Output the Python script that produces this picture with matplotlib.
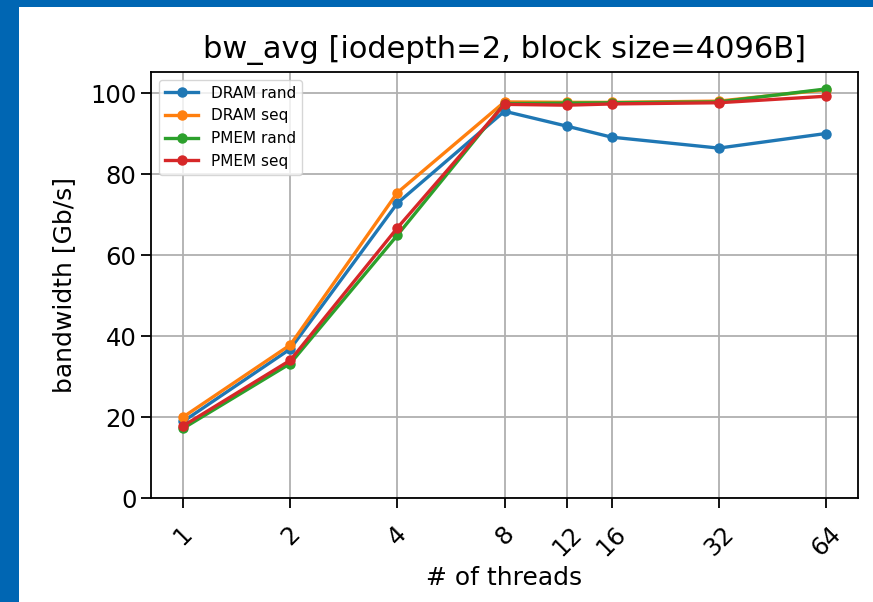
import matplotlib.pyplot as plt
from matplotlib.patches import Rectangle

threads = [1, 2, 4, 8, 12, 16, 32, 64]
dram_rand = [18.9, 36.8, 72.8, 95.5, 91.8, 89.1, 86.4, 90.0]
dram_seq = [20.0, 37.8, 75.4, 97.8, 97.7, 97.7, 98.0, 100.8]
pmem_rand = [17.2, 33.2, 64.9, 97.4, 97.5, 97.6, 97.8, 101.0]
pmem_seq = [17.8, 34.0, 66.7, 97.2, 97.0, 97.3, 97.6, 99.2]

fig = plt.figure(figsize=(8.73, 6.02), dpi=100, facecolor='#0066b3')
# white card inside the blue frame
fig.patches.append(Rectangle((19 / 873, 0), 1, 1 - 7 / 602, transform=fig.transFigure,
                             facecolor='white', edgecolor='none', zorder=-1))

ax = fig.add_axes([151 / 873, 1 - 498 / 602, (858 - 151) / 873, (498 - 72) / 602])
lw = 2.4
ms = 6.5
ax.plot(threads, dram_rand, marker='o', lw=lw, ms=ms, label='DRAM rand')
ax.plot(threads, dram_seq, marker='o', lw=lw, ms=ms, label='DRAM seq')
ax.plot(threads, pmem_rand, marker='o', lw=lw, ms=ms, label='PMEM rand')
ax.plot(threads, pmem_seq, marker='o', lw=lw, ms=ms, label='PMEM seq')

ax.set_xscale('log', base=2)
ax.set_xticks(threads)
ax.set_xticklabels([str(t) for t in threads], rotation=45, fontsize=17.5)
ax.minorticks_off()
ax.set_ylim(bottom=0)
ax.tick_params(axis='y', labelsize=17.5)
ax.tick_params(length=7, width=1.3)
ax.tick_params(axis='x', pad=10)
ax.grid(True, color='#b0b0b0', lw=1.3)
for s in ax.spines.values():
    s.set_linewidth(1.3)

ax.set_title('bw_avg [iodepth=2, block size=4096B]', fontsize=22, pad=10)
ax.set_xlabel('# of threads', fontsize=18, labelpad=4)
ax.set_ylabel('bandwidth [Gb/s]', fontsize=18, labelpad=10)
ax.legend(loc='upper left', fontsize=11, handlelength=2.2)

fig.savefig('out.png', dpi=100, facecolor=fig.get_facecolor())
